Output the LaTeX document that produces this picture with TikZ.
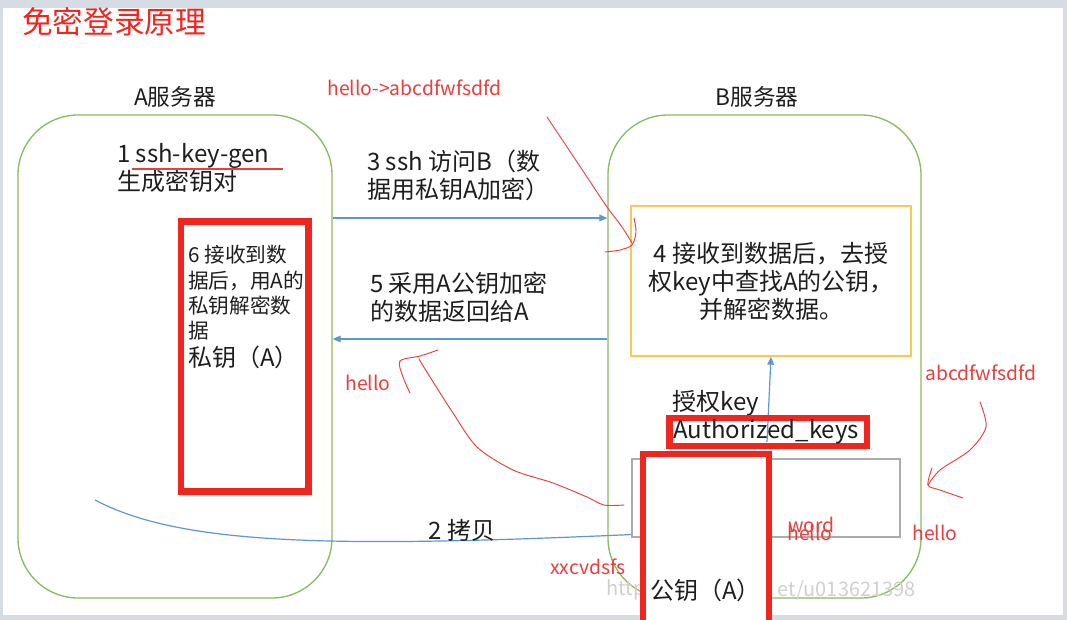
\documentclass[tikz,border=0pt]{standalone}
\usepackage{fontspec}
\setmainfont{Noto Sans CJK SC}
\usepackage{tikz}
\usetikzlibrary{arrows.meta,fit,positioning}
\definecolor{framegray}{RGB}{214,220,228}
\definecolor{srvgreen}{RGB}{140,185,100}
\definecolor{flowblue}{RGB}{95,150,210}
\definecolor{markred}{RGB}{240,38,30}
\definecolor{inkred}{RGB}{232,62,62}
\definecolor{stepyellow}{RGB}{248,202,82}
\definecolor{filegray}{RGB}{172,172,172}
\definecolor{wmgray}{RGB}{208,208,208}
\definecolor{textdark}{RGB}{30,30,30}
\tikzset{
  big/.style={font=\fontsize{18}{21}\selectfont, text=textdark, inner sep=0pt},
  small/.style={font=\fontsize{15.5}{19}\selectfont, text=textdark, inner sep=0pt},
  note/.style={font=\fontsize{14.5}{17}\selectfont, text=inkred, inner sep=0pt},
  watermark/.style={font=\fontsize{15}{18}\selectfont, text=wmgray, inner sep=0pt},
  server/.style={draw=srvgreen, line width=1pt, rounded corners=45pt, inner sep=0pt},
  keybox/.style={draw=markred, line width=4.8pt, inner sep=0pt},
  flow/.style={draw=flowblue, line width=.9pt, -{Triangle[length=6pt,width=5pt]}},
  ink/.style={inkred, line width=.7pt, line cap=round, line join=round},
}

\begin{document}
\begin{tikzpicture}[x=0.75pt, y=-0.75pt]
  \clip (0,0) rectangle (1067,620);
  \useasboundingbox (0,0) rectangle (1067,620);
  % Screen frame round the slide.
  \fill[framegray] (0,0) rectangle (1067,620);
  \fill[white] (3,8) rectangle (1063,615);

  \node[font=\fontsize{23}{25}\selectfont, text=markred, anchor=west, inner sep=0pt]
    (title) at (22,22) {免密登录原理};

  % The two servers.
  \node[server, fit={(18,115) (332,598)}] (srvA) {};
  \node[server, fit={(608,115) (921,598)}] (srvB) {};
  \node[big, font=\fontsize{17}{20}\selectfont] (nameA) at (175,97) {A服务器};
  \node[big, font=\fontsize{17}{20}\selectfont] (nameB) at (757,97) {B服务器};

  \node[big, anchor=west, align=left] (keygen) at (117,168)
    {1 ssh-key-gen\\生成密钥对};
  \draw[inkred, line width=.8pt] (132,169) -- (283,169);

  \node[small, anchor=west, align=left] (decrypt) at (188,293)
    {6 接收到数\\据后，用A的\\私钥解密数\\据};
  \node[big, anchor=west] (privtxt) at (188,357) {私钥（A）};
  \node[keybox, fit={(181,221.5) (308.5,491.5)}] (privA) {};

  % Request and answer between the servers.
  \draw[flow] (srvA.east |- 0,218) -- (srvB.west |- 0,218);
  \draw[flow] (srvB.west |- 0,339) -- (srvA.east |- 0,339);
  \node[big, anchor=west, align=left] (ssh) at (367,175)
    {3 ssh 访问B（数\\据用私钥A加密）};
  \node[big, anchor=west, align=left] (reply) at (370,297)
    {5 采用A公钥加密\\的数据返回给A};

  \node[draw=stepyellow, line width=1pt, fit={(631,206) (911,356)}, inner sep=0pt] (box4) {};
  \node[big, align=center] (step4) at (box4.center)
    {4 接收到数据后，去授\\权key中查找A的公钥，\\并解密数据。};

  \node[big, anchor=west] (authcn) at (672,403) {授权key};
  \coordinate (authfoot) at (767,442);
  \draw[flow] (authfoot) -- (box4.south);
  \node[keybox, fit={(669.5,418) (867,446)}] (auth) {};
  \node[big, anchor=west] (authtxt) at (673,432) {Authorized\_keys};

  \node[draw=filegray, line width=.8pt, fit={(632,459) (900,537)}, inner sep=0pt] (keyfile) {};

  % Watermark, partly hidden behind the public key box.
  \node[watermark, anchor=west] (wmleft) at (606,590) {http};
  \node[watermark, anchor=east] (wmright) at (916,590) {et/u013621398};

  \node[keybox, fill=white, fit={(643,454) (769,640)}] (pubA) {};
  \node[big, anchor=west] (pubtxt) at (650,590) {公钥（A）};

  % Copying the public key over to B.
  \coordinate (copystart) at (95,500);
  \draw[flowblue, line width=.9pt] (copystart)
    .. controls (180,545) and (330,548) .. ([yshift=2.25pt]keyfile.south west);
  \node[big] (copylbl) at (462,530) {2 拷贝};

  % Hand-written notes.
  \node[note, anchor=west] (enc) at (327,88) {hello->abcdfwfsdfd};
  \node[note, anchor=west] (helloA) at (345,383) {hello};
  \node[note, anchor=west] (junk) at (550,567) {xxcvdsfs};
  \node[note, anchor=west] (word) at (788,525) {word};
  \node[note, anchor=west] (helloB) at (787,533) {hello};
  \node[note, anchor=west] (cipher) at (925,373) {abcdfwfsdfd};
  \node[note, anchor=west] (helloC) at (912,533) {hello};

  \draw[ink] plot[smooth] coordinates
    {(547,117) (567,147) (587,177) (607,207) (622,227) (632,243)};
  \draw[ink] plot[smooth] coordinates
    {(605,252) (620,250) (632,245) (636,232) (634,218)};
  \draw[ink] plot[smooth] coordinates
    {(624,505) (604,505) (587,497) (553,483) (513,470) (477,447) (453,413) (430,377) (419,359)};
  \draw[ink] plot[smooth] coordinates
    {(438,350) (420,356) (400,361) (403,377) (410,393)};
  \draw[ink] plot[smooth] coordinates
    {(980,402) (986,427) (970,450) (940,470) (928,485)};
  \draw[ink] plot[smooth] coordinates
    {(932,468) (928,485) (940,490) (963,498)};
\end{tikzpicture}
\end{document}
